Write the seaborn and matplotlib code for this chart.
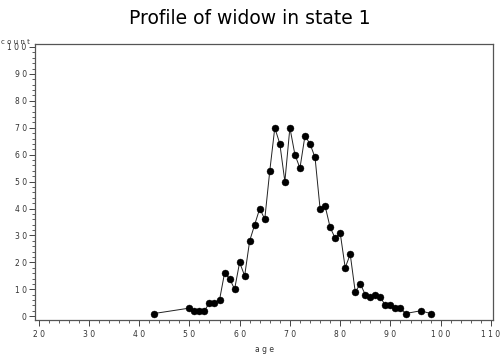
import matplotlib
matplotlib.use("Agg")
import matplotlib.pyplot as plt
import seaborn as sns
import pandas as pd
from matplotlib.ticker import MultipleLocator, FixedLocator, FixedFormatter

# ---- data ----
ages = [43, 50, 51, 52, 53, 54, 55, 56, 57, 58, 59, 60, 61, 62, 63, 64, 65, 66,
        67, 68, 69, 70, 71, 72, 73, 74, 75, 76, 77, 78, 79, 80, 81, 82, 83, 84,
        85, 86, 87, 88, 89, 90, 91, 92, 93, 96, 98]
counts = [1, 3, 2, 2, 2, 5, 5, 6, 16, 14, 10, 20, 15, 28, 34, 40, 36, 54,
          70, 64, 50, 70, 60, 55, 67, 64, 59, 40, 41, 33, 29, 31, 18, 23, 9, 12,
          8, 7, 8, 7, 4, 4, 3, 3, 1, 2, 1]

x_ticks = [20, 30, 40, 50, 60, 70, 80, 90, 100, 110]
x_tick_labels = ["2 0", "3 0", "4 0", "5 0", "6 0", "7 0", "8 0", "9 0", "1 0 0", "1 1 0"]
y_ticks = [0, 10, 20, 30, 40, 50, 60, 70, 80, 90, 100]
y_tick_labels = ["0", "1 0", "2 0", "3 0", "4 0", "5 0", "6 0", "7 0", "8 0", "9 0", "1 0 0"]

title = "Profile of widow in state 1"
x_label = "a g e"
y_label = "c o u n t"

df = pd.DataFrame({"age": ages, "count": counts})

sns.set_style("white")
plt.rcParams["font.family"] = ["DejaVu Sans"]

fig = plt.figure(figsize=(5.02, 3.62), dpi=100)
ax = fig.add_axes([35 / 502, 1 - 319.7 / 362, (493 - 35) / 502, (319.7 - 44) / 362])

sns.lineplot(data=df, x="age", y="count", ax=ax, color="#222222", linewidth=0.7,
             marker="o", markersize=5.0, markerfacecolor="black",
             markeredgecolor="black", markeredgewidth=0.3)

ax.set_xlim(19.3, 110.4)
ax.set_ylim(-1.3, 101.1)

ax.xaxis.set_major_locator(FixedLocator(x_ticks))
ax.xaxis.set_major_formatter(FixedFormatter(x_tick_labels))
ax.yaxis.set_major_locator(FixedLocator(y_ticks))
ax.yaxis.set_major_formatter(FixedFormatter(y_tick_labels))
ax.xaxis.set_minor_locator(MultipleLocator(2))
ax.yaxis.set_minor_locator(MultipleLocator(2))

ax.tick_params(axis="both", which="major", direction="out", length=4, width=0.7,
               color="#444444", labelsize=5.5, labelcolor="#333333", pad=2,
               bottom=True, left=True)
ax.tick_params(axis="both", which="minor", direction="out", length=2.2, width=0.6,
               color="#444444", bottom=True, left=True)
ax.tick_params(axis="x", which="major", pad=3.5)

for s in ax.spines.values():
    s.set_visible(True)
    s.set_color("#555555")
    s.set_linewidth(0.9)

ax.set_xlabel("")
ax.set_ylabel("")

fig.text(0.498, 1 - 18.5 / 362, title, ha="center", va="center", fontsize=13.5,
         color="black")
fig.text(0.002, 1 - 41.5 / 362, y_label, ha="left", va="center", fontsize=5,
         color="#333333")
fig.text(265 / 502, 1 - 350 / 362, x_label, ha="center", va="center", fontsize=5.5,
         color="#333333")

fig.savefig("out.png", dpi=100)
